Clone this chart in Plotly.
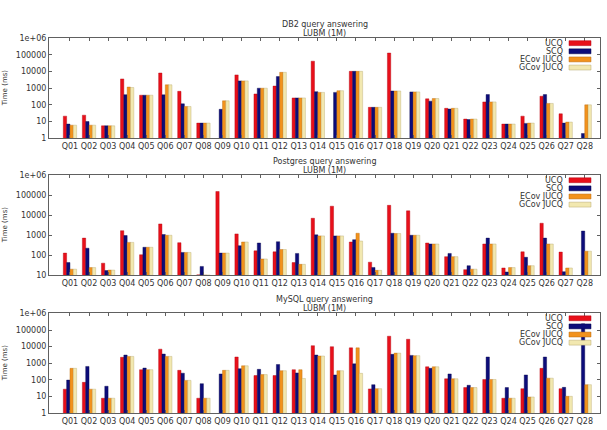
import plotly.graph_objects as go

queries = [f"Q{i:02d}" for i in range(1, 29)]
series_names = ["UCQ", "SCQ", "ECov JUCQ", "GCov JUCQ"]
colors = ["#e8101a", "#0c0c7a", "#f2921c", "#f2e8b0"]
edge_colors = ["#b00010", "#05054a", "#b86a10", "#b8a870"]

# DB2 (ms)
db2_ucq = [21, 24, 5.5, 3600, 380, 8200, 650, 8, None, 6300, 450, 1340, 260, 42000,
           None, 10300, 71, 130000, None, 230, 62, 14, 150, 7, 21, 330, 29, None]
db2_scq = [7, 10, 5.5, 410, 380, 400, 115, 8, 54, 2750, 1000, 5000, 260, 620,
           560, 10300, 71, 680, 600, 167, 56, 13, 415, 7, 7.7, 415, 8, 1.9]
db2_ecov = [6, 6, 5.5, 1170, 380, 1600, 80, 8, 175, 2750, 1000, 9000, 260, 560,
            710, 10300, 71, 680, 600, 240, 62, 14, 150, 7, 8, 122, 9.2, 100]
db2_gcov = [6, 6, 5.5, 1100, 380, 1600, 80, 8, 175, 2750, 1000, 9000, 260, 560,
            710, 10300, 71, 680, 600, 240, 62, 14, 150, 7, 8, 122, 9.2, 100]

# Postgres (ms)
pg_ucq = [128, 720, 40, 1700, 106, 3700, 425, 10.4, 155000, 1170, 166, 148, 43, 7100,
          28500, 460, 45, 31500, 16700, 410, 85, 19, 365, 23, 148, 4000, 144, None]
pg_scq = [43, 225, 17, 970, 250, 1090, 138, 27.5, 128, 300, 410, 475, 123, 1050,
          930, 600, 24.5, 1260, 1000, 365, 123, 30, 720, 14.5, 79, 720, 15, 1630]
pg_ecov = [20, 24, 18, 440, 250, 1000, 138, 10.3, 128, 460, 65, 193, 35, 930,
           930, 1260, 17.5, 1220, 1000, 365, 85, 20, 365, 24, 30, 365, 23, 160]
pg_gcov = [20, 24, 18, 440, 250, 1000, 138, 10.3, 128, 460, 65, 193, 35, 930,
           930, 515, 17.5, 1220, 1000, 365, 85, 20, 365, 24, 30, 365, 23, 160]

# MySQL (ms)
my_ucq = [28, 72, 8, 2300, 415, 7100, 380, 8, None, 2400, 185, 185, 415, 11500,
          10000, 8500, 29, 42500, 28000, 620, 118, 35, 107, 8, 30, 500, 30, None]
my_scq = [98, 650, 42, 3150, 520, 3600, 255, 60, 230, 475, 435, 850, 265, 3150,
          200, 930, 52, 3450, 3000, 500, 230, 48, 2400, 35, 200, 2400, 36, 235000]
my_ecov = [500, 28, 8, 2600, 415, 2600, 94, 8, 380, 710, 210, 360, 415, 2750,
           360, 8500, 30, 4100, 2900, 620, 118, 35, 107, 8, 9.5, 128, 10.4, 52]
my_gcov = [500, 28, 8, 2600, 415, 2600, 94, 8, 380, 710, 210, 360, 123, 2750,
           360, 250, 30, 4100, 2900, 620, 118, 35, 107, 8, 9.5, 128, 10.4, 52]

panels = [
    ("DB2 query answering", [db2_ucq, db2_scq, db2_ecov, db2_gcov], 0),
    ("Postgres query answering", [pg_ucq, pg_scq, pg_ecov, pg_gcov], 1),
    ("MySQL query answering", [my_ucq, my_scq, my_ecov, my_gcov], 0),
]

W, H = 607, 430
# pixel boxes (top, bottom) of each plotting area
boxes = [(35, 137), (175, 277), (316, 418)]
xl, xr = 49, 600

font_family = "DejaVu Sans"
fig = go.Figure()
xpos = list(range(len(queries)))

annotations = []
shapes = []
for p, (title, data, ymin_exp) in enumerate(panels):
    xa = "x" if p == 0 else f"x{p+1}"
    ya = "y" if p == 0 else f"y{p+1}"
    for s, vals in enumerate(data):
        fig.add_trace(go.Bar(
            x=xpos, y=vals, name=series_names[s], xaxis=xa, yaxis=ya,
            marker=dict(color=colors[s], line=dict(color=edge_colors[s], width=0.4)),
            showlegend=False, offsetgroup=str(s)))
    top, bot = boxes[p]
    dom = [1 - bot / H, 1 - top / H]
    tickv = [10 ** e for e in range(ymin_exp, 7)]
    tickt = ["1e+06" if e == 6 else str(10 ** e) for e in range(ymin_exp, 7)]
    axis_common = dict(showline=True, linecolor="#606060", linewidth=1, mirror="allticks",
                       ticks="inside", ticklen=3, tickcolor="#606060",
                       showgrid=False, zeroline=False,
                       tickfont=dict(family=font_family, size=8, color="#333333"))
    xkey = "xaxis" if p == 0 else f"xaxis{p+1}"
    ykey = "yaxis" if p == 0 else f"yaxis{p+1}"
    fig.update_layout({
        xkey: dict(domain=[xl / W, xr / W], anchor=ya, range=[-1.1, 27.8],
                   tickvals=xpos, ticktext=queries, **axis_common),
        ykey: dict(domain=dom, anchor=xa, type="log", range=[ymin_exp, 6],
                   tickvals=tickv, ticktext=tickt, **axis_common),
    })
    cx = (xl + xr) / 2 / W
    annotations.append(dict(text=title, x=cx, y=1 - (top - 14) / H, xref="paper", yref="paper",
                            showarrow=False, xanchor="center", yanchor="middle",
                            font=dict(family=font_family, size=8, color="#333333")))
    annotations.append(dict(text="LUBM (1M)", x=cx, y=1 - (top - 5) / H, xref="paper", yref="paper",
                            showarrow=False, xanchor="center", yanchor="middle",
                            font=dict(family=font_family, size=8, color="#333333")))
    annotations.append(dict(text="Time (ms)", x=5 / W, y=1 - (top + bot) / 2 / H,
                            xref="paper", yref="paper", showarrow=False, textangle=-90,
                            xanchor="center", yanchor="middle",
                            font=dict(family=font_family, size=7, color="#333333")))
    # legend (text right-aligned, swatch on the right, gnuplot style)
    for s, name in enumerate(series_names):
        yc = top + 5 + 8.3 * s
        annotations.append(dict(text=name, x=565 / W, y=1 - yc / H, xref="paper", yref="paper",
                                showarrow=False, xanchor="right", yanchor="middle",
                                font=dict(family=font_family, size=8, color="#333333")))
        shapes.append(dict(type="rect", xref="paper", yref="paper",
                           x0=569 / W, x1=591 / W, y0=1 - (yc + 2.5) / H, y1=1 - (yc - 2.5) / H,
                           fillcolor=colors[s], line=dict(color=edge_colors[s], width=0.5)))

fig.update_layout(
    width=W, height=H, margin=dict(l=0, r=0, t=0, b=0),
    paper_bgcolor="white", plot_bgcolor="white",
    barmode="group", bargap=0.3, bargroupgap=0,
    annotations=annotations, shapes=shapes, showlegend=False,
    font=dict(family=font_family, size=8),
)

fig.write_html("out.html")
